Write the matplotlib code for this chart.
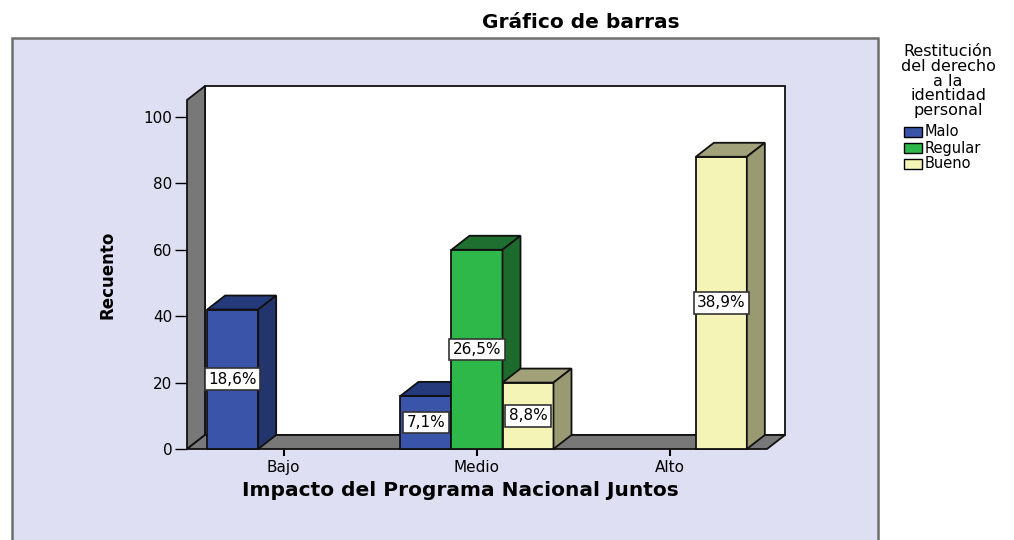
import matplotlib
matplotlib.use("Agg")
import matplotlib.pyplot as plt
from matplotlib.patches import Polygon, Rectangle
import numpy as np

categories = ["Bajo", "Medio", "Alto"]
series = ["Malo", "Regular", "Bueno"]
malo = [42, 16, 0]
regular = [0, 60, 0]
bueno = [0, 20, 88]
pct_labels = {("Malo", 0): "18,6%", ("Malo", 1): "7,1%", ("Regular", 1): "26,5%",
              ("Bueno", 1): "8,8%", ("Bueno", 2): "38,9%"}
yticks = [0, 20, 40, 60, 80, 100]
legend_title = "Restitución\ndel derecho\na la\nidentidad\npersonal"

front_cols = {"Malo": "#3a54aa", "Regular": "#2fb84a", "Bueno": "#f4f4b6"}
top_cols = {"Malo": "#243a7a", "Regular": "#1f7030", "Bueno": "#a2a27a"}
side_cols = {"Malo": "#24346c", "Regular": "#1c6a2c", "Bueno": "#9a9a72"}
values = {"Malo": malo, "Regular": regular, "Bueno": bueno}

W, H = 1014, 540
fig = plt.figure(figsize=(W / 100, H / 100), dpi=100)
fig.patch.set_facecolor("white")

# outer panel
panel = Rectangle((12 / W, -0.02), (878 - 12) / W, (540 - 38) / H + 0.02, transform=fig.transFigure,
                  facecolor="#dfdff3", edgecolor="#6e6e6e", linewidth=1.8, zorder=-5)
fig.patches.append(panel)

ymax = 105.1
ax = fig.add_axes([187 / W, 91 / H, 580 / W, 349 / H])
ax.set_zorder(1)
ax.set_xlim(-0.5, 2.5)
ax.set_ylim(0, ymax)
ax.patch.set_alpha(0)
for s in ax.spines.values():
    s.set_visible(False)

dx = 18 / 193.33
dy = 14 / 3.32
x0, x1 = -0.5, 2.5

def poly(pts, fc, z, lw=1.3):
    ax.add_patch(Polygon(pts, closed=True, facecolor=fc, edgecolor="#111111",
                         linewidth=lw, clip_on=False, zorder=z, joinstyle="miter"))

# back wall
poly([(x0 + dx, dy), (x1 + dx, dy), (x1 + dx, ymax + dy), (x0 + dx, ymax + dy)], "white", 1)
# left wall
poly([(x0, 0), (x0, ymax), (x0 + dx, ymax + dy), (x0 + dx, dy)], "#787878", 2)
# floor
poly([(x0, 0), (x1, 0), (x1 + dx, dy), (x0 + dx, dy)], "#787878", 2)

bw = 51 / 193.33
offsets = {"Malo": -bw, "Regular": 0.0, "Bueno": bw}
z = 3
for ci, cat in enumerate(categories):
    for s in series:
        v = values[s][ci]
        if v <= 0:
            continue
        xl = ci + offsets[s] - bw / 2
        xr = xl + bw
        poly([(xl, 0), (xr, 0), (xr, v), (xl, v)], front_cols[s], z)
        poly([(xl, v), (xr, v), (xr + dx, v + dy), (xl + dx, v + dy)], top_cols[s], z)
        poly([(xr, 0), (xr + dx, dy), (xr + dx, v + dy), (xr, v)], side_cols[s], z)
        z += 1

for ci, cat in enumerate(categories):
    for s in series:
        key = (s, ci)
        if key in pct_labels:
            v = values[s][ci]
            ax.text(ci + offsets[s], v / 2, pct_labels[key], ha="center", va="center",
                    fontsize=11, color="black", zorder=50,
                    bbox=dict(boxstyle="square,pad=0.22", facecolor="white",
                              edgecolor="#333333", linewidth=1.2))

ax.set_yticks(yticks)
ax.set_yticklabels([str(t) for t in yticks], fontsize=11)
ax.set_xticks(range(len(categories)))
ax.set_xticklabels(categories, fontsize=11)
ax.tick_params(axis="y", direction="out", length=8.5, width=1.0, pad=2)
ax.tick_params(axis="x", direction="out", length=5, width=1.5, pad=3)

fig.text(108 / W, 1 - 275 / H, "Recuento", rotation=90, ha="center", va="center",
         fontsize=12, fontweight="bold")
fig.text(460 / W, 1 - 491 / H, "Impacto del Programa Nacional Juntos", ha="center", va="center",
         fontsize=14.5, fontweight="bold")
fig.text(581 / W, 1 - 22 / H, "Gráfico de barras", ha="center", va="center",
         fontsize=14.5, fontweight="bold")

# legend
fig.text(948 / W, 1 - 44 / H, legend_title, ha="center", va="top", fontsize=11.5,
         multialignment="center", linespacing=0.98)
for i, s in enumerate(series):
    yc = 132 + 16 * i
    fig.patches.append(Rectangle((904 / W, 1 - (yc + 5) / H), 18 / W, 10 / H,
                                 transform=fig.transFigure, facecolor=front_cols[s],
                                 edgecolor="black", linewidth=1.0))
    fig.text(925 / W, 1 - yc / H, s, ha="left", va="center", fontsize=10.5)

fig.savefig("out.png", dpi=100)
